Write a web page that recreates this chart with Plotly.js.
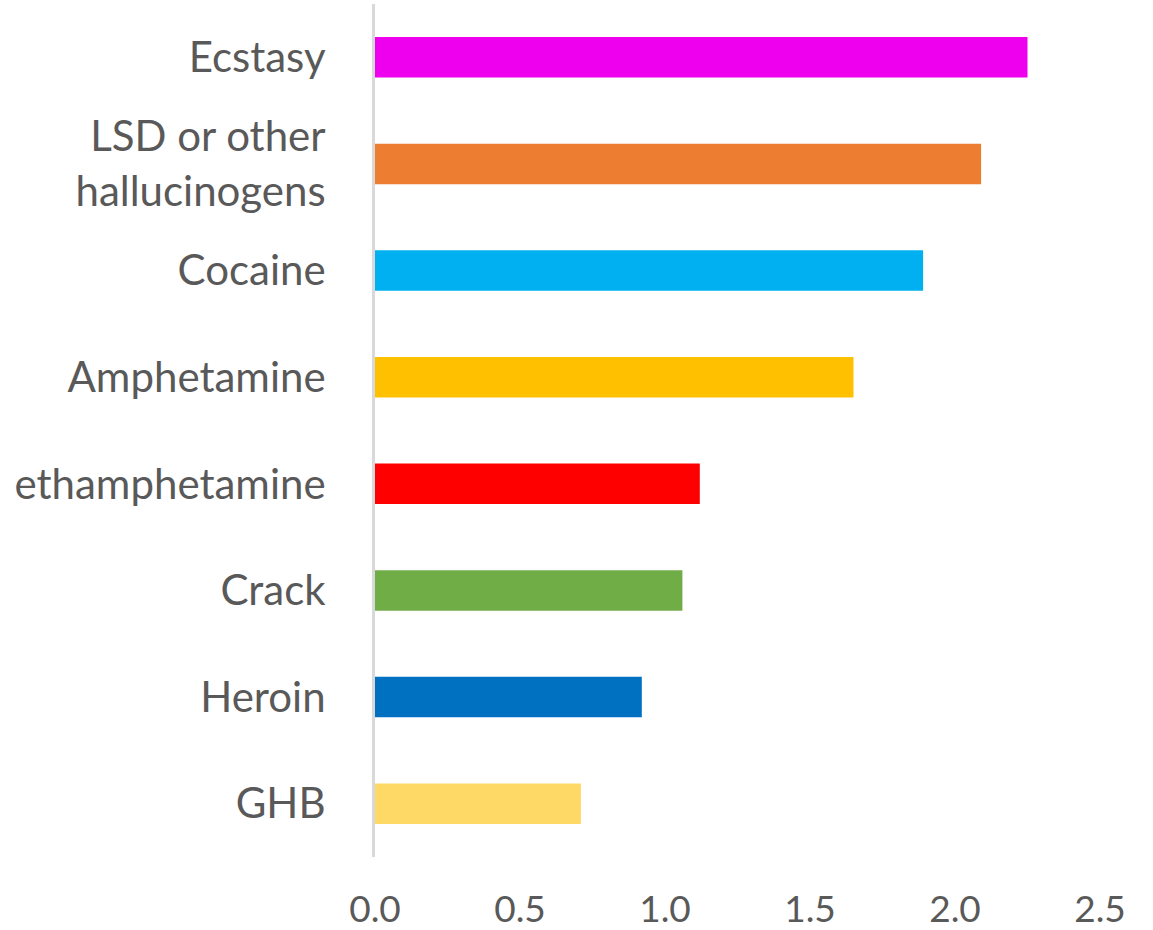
<!DOCTYPE html>
<html>
<head>
<meta charset="utf-8">
<script src="https://cdn.plot.ly/plotly-3.0.1.min.js"></script>
<style>
  html, body { margin: 0; padding: 0; background: #fff; }
  #chart { width: 1153px; height: 930px; }
</style>
</head>
<body>
<div id="chart"></div>
<script>
// drug categories, top to bottom (label text as it appears in the source image)
const drugs = ['Ecstasy', 'LSD or other<br>hallucinogens', 'Cocaine', 'Amphetamine',
  'ethamphetamine', 'Crack', 'Heroin', 'GHB'];
const values = [2.25, 2.09, 1.89, 1.65, 1.12, 1.06, 0.92, 0.71];
const barColors = ['#EE00EE', '#ED7D31', '#00B0F0', '#FFC000',
  '#FF0000', '#70AD47', '#0070C0', '#FFD966'];
const xTicks = [0, 0.5, 1, 1.5, 2, 2.5];
const xTickText = ['0.0', '0.5', '1.0', '1.5', '2.0', '2.5'];

const data = [{
  type: 'bar',
  orientation: 'h',
  x: values,
  y: drugs,
  width: 0.38,
  marker: { color: barColors },
  hoverinfo: 'x+y'
}];

const layout = {
  width: 1153,
  height: 930,
  margin: { l: 375, r: 53, t: 4, b: 73 },
  paper_bgcolor: '#ffffff',
  plot_bgcolor: '#ffffff',
  font: { family: 'Lato, "Open Sans", sans-serif', size: 36, color: '#595959' },
  showlegend: false,
  xaxis: {
    range: [0, 2.5],
    tickvals: xTicks,
    ticktext: xTickText,
    tickfont: { size: 37 },
    showgrid: false,
    zeroline: false,
    showline: false,
    ticks: '',
    ticklabelstandoff: 27
  },
  yaxis: {
    autorange: 'reversed',
    tickfont: { size: 42 },
    showline: true,
    linecolor: '#d9d9d9',
    linewidth: 3,
    showgrid: false,
    ticks: '',
    ticklabelstandoff: 38
  }
};

Plotly.newPlot('chart', data, layout, { displayModeBar: false, staticPlot: true });
</script>
</body>
</html>
